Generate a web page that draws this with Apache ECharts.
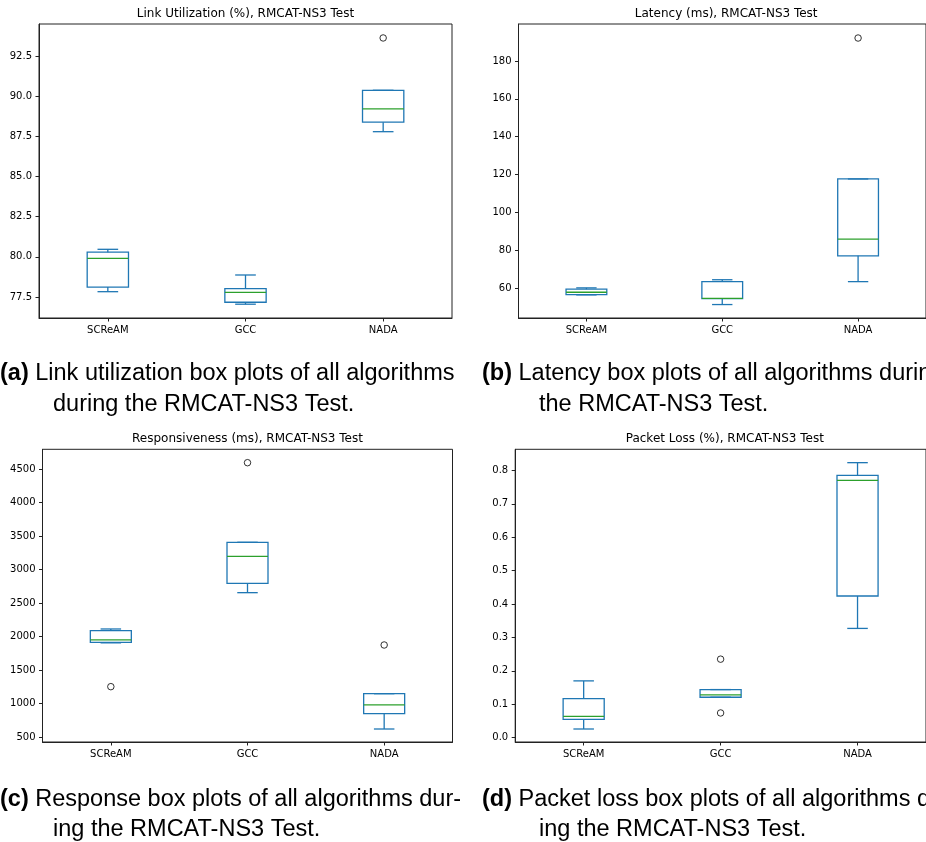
<!DOCTYPE html>
<html>
<head>
<meta charset="utf-8">
<script src="https://cdn.jsdelivr.net/npm/echarts@6/dist/echarts.min.js"></script>
<style>
html,body{margin:0;padding:0;background:#fff;}
#chart{width:926px;height:842px;}
</style>
</head>
<body>
<div id="chart"></div>
<script>
// ---------- data ----------
const categories = ['SCReAM', 'GCC', 'NADA'];

// [whiskerLow, Q1, median, Q3, whiskerHigh] per category
const linkBox = [[77.83, 78.12, 79.91, 80.29, 80.47], [77.05, 77.17, 77.79, 78.02, 78.87], [87.80, 88.39, 89.22, 90.38, 90.38]];
const linkOutliers = [['NADA', 93.64]];

const latBox = [[56.5, 56.6, 57.9, 59.5, 60.2], [51.4, 54.5, 54.7, 63.5, 64.5], [63.5, 77.1, 85.9, 117.7, 117.7]];
const latOutliers = [['NADA', 192.1]];

const respBox = [[1905, 1913, 1948, 2087, 2112], [2654, 2794, 3197, 3406, 3406], [619, 848, 978, 1146, 1146]];
const respOutliers = [['SCReAM', 1251], ['GCC', 4594], ['NADA', 1873]];

const lossBox = [[0.026, 0.055, 0.064, 0.117, 0.170], [0.121, 0.121, 0.128, 0.144, 0.144], [0.327, 0.424, 0.770, 0.785, 0.823]];
const lossOutliers = [['GCC', 0.235], ['GCC', 0.074]];

const linkTicks = [77.5, 80.0, 82.5, 85.0, 87.5, 90.0, 92.5];
const latTicks = [60, 80, 100, 120, 140, 160, 180];
const respTicks = [500, 1000, 1500, 2000, 2500, 3000, 3500, 4000, 4500];
const lossTicks = [0.0, 0.1, 0.2, 0.3, 0.4, 0.5, 0.6, 0.7, 0.8];

const titles = ['Link Utilization (%), RMCAT-NS3 Test', 'Latency (ms), RMCAT-NS3 Test',
                'Responsiveness (ms), RMCAT-NS3 Test', 'Packet Loss (%), RMCAT-NS3 Test'];

const captions = [
  ['(a)', ' Link utilization box plots of all algorithms', 'during the RMCAT-NS3 Test.'],
  ['(b)', ' Latency box plots of all algorithms during', 'the RMCAT-NS3 Test.'],
  ['(c)', ' Response box plots of all algorithms dur-', 'ing the RMCAT-NS3 Test.'],
  ['(d)', ' Packet loss box plots of all algorithms dur-', 'ing the RMCAT-NS3 Test.']
];

// ---------- layout ----------
const panels = [
  {grid: {left: 39, top: 24, width: 413, height: 294}, range: [76.19, 94.51], ticks: linkTicks, dec: 1, box: linkBox, out: linkOutliers},
  {grid: {left: 518.5, top: 24, width: 415.5, height: 294}, range: [44.3, 199.5], ticks: latTicks, dec: 0, box: latBox, out: latOutliers},
  {grid: {left: 42.5, top: 449.3, width: 410, height: 292.7}, range: [425, 4794], ticks: respTicks, dec: 0, box: respBox, out: respOutliers},
  {grid: {left: 515.2, top: 449.3, width: 419.4, height: 292.7}, range: [-0.0129, 0.863], ticks: lossTicks, dec: 1, box: lossBox, out: lossOutliers}
];
const titlePos = [[245.5, 13.5], [726.2, 13.5], [247.5, 438.5], [724.8, 438.5]];
const capPos = [[0, 374, 53, 405], [482, 374, 539, 405], [0, 800, 53, 830], [482, 800, 539, 830]];
const CAP_FONT = '23.5px "Liberation Sans"';
const CAP_BOLD = 'bold 23.5px "Liberation Sans"';

const BLUE = '#1f77b4', GREEN = '#2ca02c', AX = '#222';
const tickFont = {fontFamily: 'DejaVu Sans', fontSize: 10, color: '#000'};

function renderBox(params, api) {
  const c = api.value(0);
  const pLo = api.coord([c, api.value(1)]);
  const pQ1 = api.coord([c, api.value(2)]);
  const pMed = api.coord([c, api.value(3)]);
  const pQ3 = api.coord([c, api.value(4)]);
  const pHi = api.coord([c, api.value(5)]);
  const band = api.size([1, 0])[0];
  const bw = band * 0.3, cw = band * 0.15;
  const x = pQ1[0];
  const st = {stroke: BLUE, lineWidth: 1.3, fill: null};
  return {
    type: 'group',
    children: [
      {type: 'line', shape: {x1: x, y1: pQ1[1], x2: x, y2: pLo[1]}, style: st},
      {type: 'line', shape: {x1: x, y1: pQ3[1], x2: x, y2: pHi[1]}, style: st},
      {type: 'line', shape: {x1: x - cw / 2, y1: pLo[1], x2: x + cw / 2, y2: pLo[1]}, style: st},
      {type: 'line', shape: {x1: x - cw / 2, y1: pHi[1], x2: x + cw / 2, y2: pHi[1]}, style: st},
      {type: 'rect', shape: {x: x - bw / 2, y: pQ3[1], width: bw, height: pQ1[1] - pQ3[1]}, style: {stroke: BLUE, lineWidth: 1.3, fill: null}},
      {type: 'line', shape: {x1: x - bw / 2, y1: pMed[1], x2: x + bw / 2, y2: pMed[1]}, style: {stroke: GREEN, lineWidth: 1.3}}
    ]
  };
}

const grids = [], xAxes = [], yAxes = [], series = [], graphics = [];
panels.forEach((p, i) => {
  grids.push(Object.assign({show: true, borderColor: AX, borderWidth: 1, backgroundColor: 'transparent'}, p.grid));
  xAxes.push({
    type: 'category', gridIndex: i, data: categories, boundaryGap: true,
    axisLine: {show: true, onZero: false, lineStyle: {color: AX, width: 1}},
    axisTick: {show: true, alignWithLabel: true, length: 3.5, lineStyle: {color: AX}},
    axisLabel: Object.assign({margin: 7}, tickFont),
    splitLine: {show: false}
  });
  yAxes.push({
    type: 'value', gridIndex: i, min: p.range[0], max: p.range[1], scale: true,
    axisLine: {show: true, onZero: false, lineStyle: {color: AX, width: 1}},
    axisTick: {show: true, length: 3.5, lineStyle: {color: AX}, customValues: p.ticks},
    axisLabel: Object.assign({margin: 7, customValues: p.ticks, formatter: v => Number(v).toFixed(p.dec)}, tickFont),
    splitLine: {show: false}
  });
  series.push({
    type: 'custom', xAxisIndex: i, yAxisIndex: i,
    renderItem: renderBox,
    encode: {x: 0, y: [1, 2, 3, 4, 5]},
    data: p.box.map((b, k) => [k].concat(b)),
    silent: true
  });
  series.push({
    type: 'scatter', xAxisIndex: i, yAxisIndex: i,
    symbol: 'circle', symbolSize: 6.5,
    itemStyle: {color: 'rgba(0,0,0,0)', borderColor: '#000', borderWidth: 1},
    data: p.out, silent: true
  });
  graphics.push({
    type: 'text', x: titlePos[i][0], y: titlePos[i][1],
    style: {text: titles[i], font: '12px "DejaVu Sans"', fill: '#000', align: 'center', verticalAlign: 'middle'}
  });
  const cp = capPos[i];
  graphics.push({
    type: 'text', x: cp[0], y: cp[1],
    style: {
      text: '{b|' + captions[i][0] + '}{r|' + captions[i][1] + '}',
      fill: '#000', align: 'left', verticalAlign: 'middle',
      rich: {
        b: {font: CAP_BOLD, fill: '#000'},
        r: {font: CAP_FONT, fill: '#000'}
      }
    }
  });
  graphics.push({
    type: 'text', x: cp[2], y: cp[3],
    style: {text: captions[i][2], font: CAP_FONT, fill: '#000', align: 'left', verticalAlign: 'middle'}
  });
});

const chart = echarts.init(document.getElementById('chart'), null, {renderer: 'canvas'});
chart.setOption({
  animation: false,
  backgroundColor: '#fff',
  grid: grids,
  xAxis: xAxes,
  yAxis: yAxes,
  series: series,
  graphic: {elements: graphics}
});
</script>
</body>
</html>
